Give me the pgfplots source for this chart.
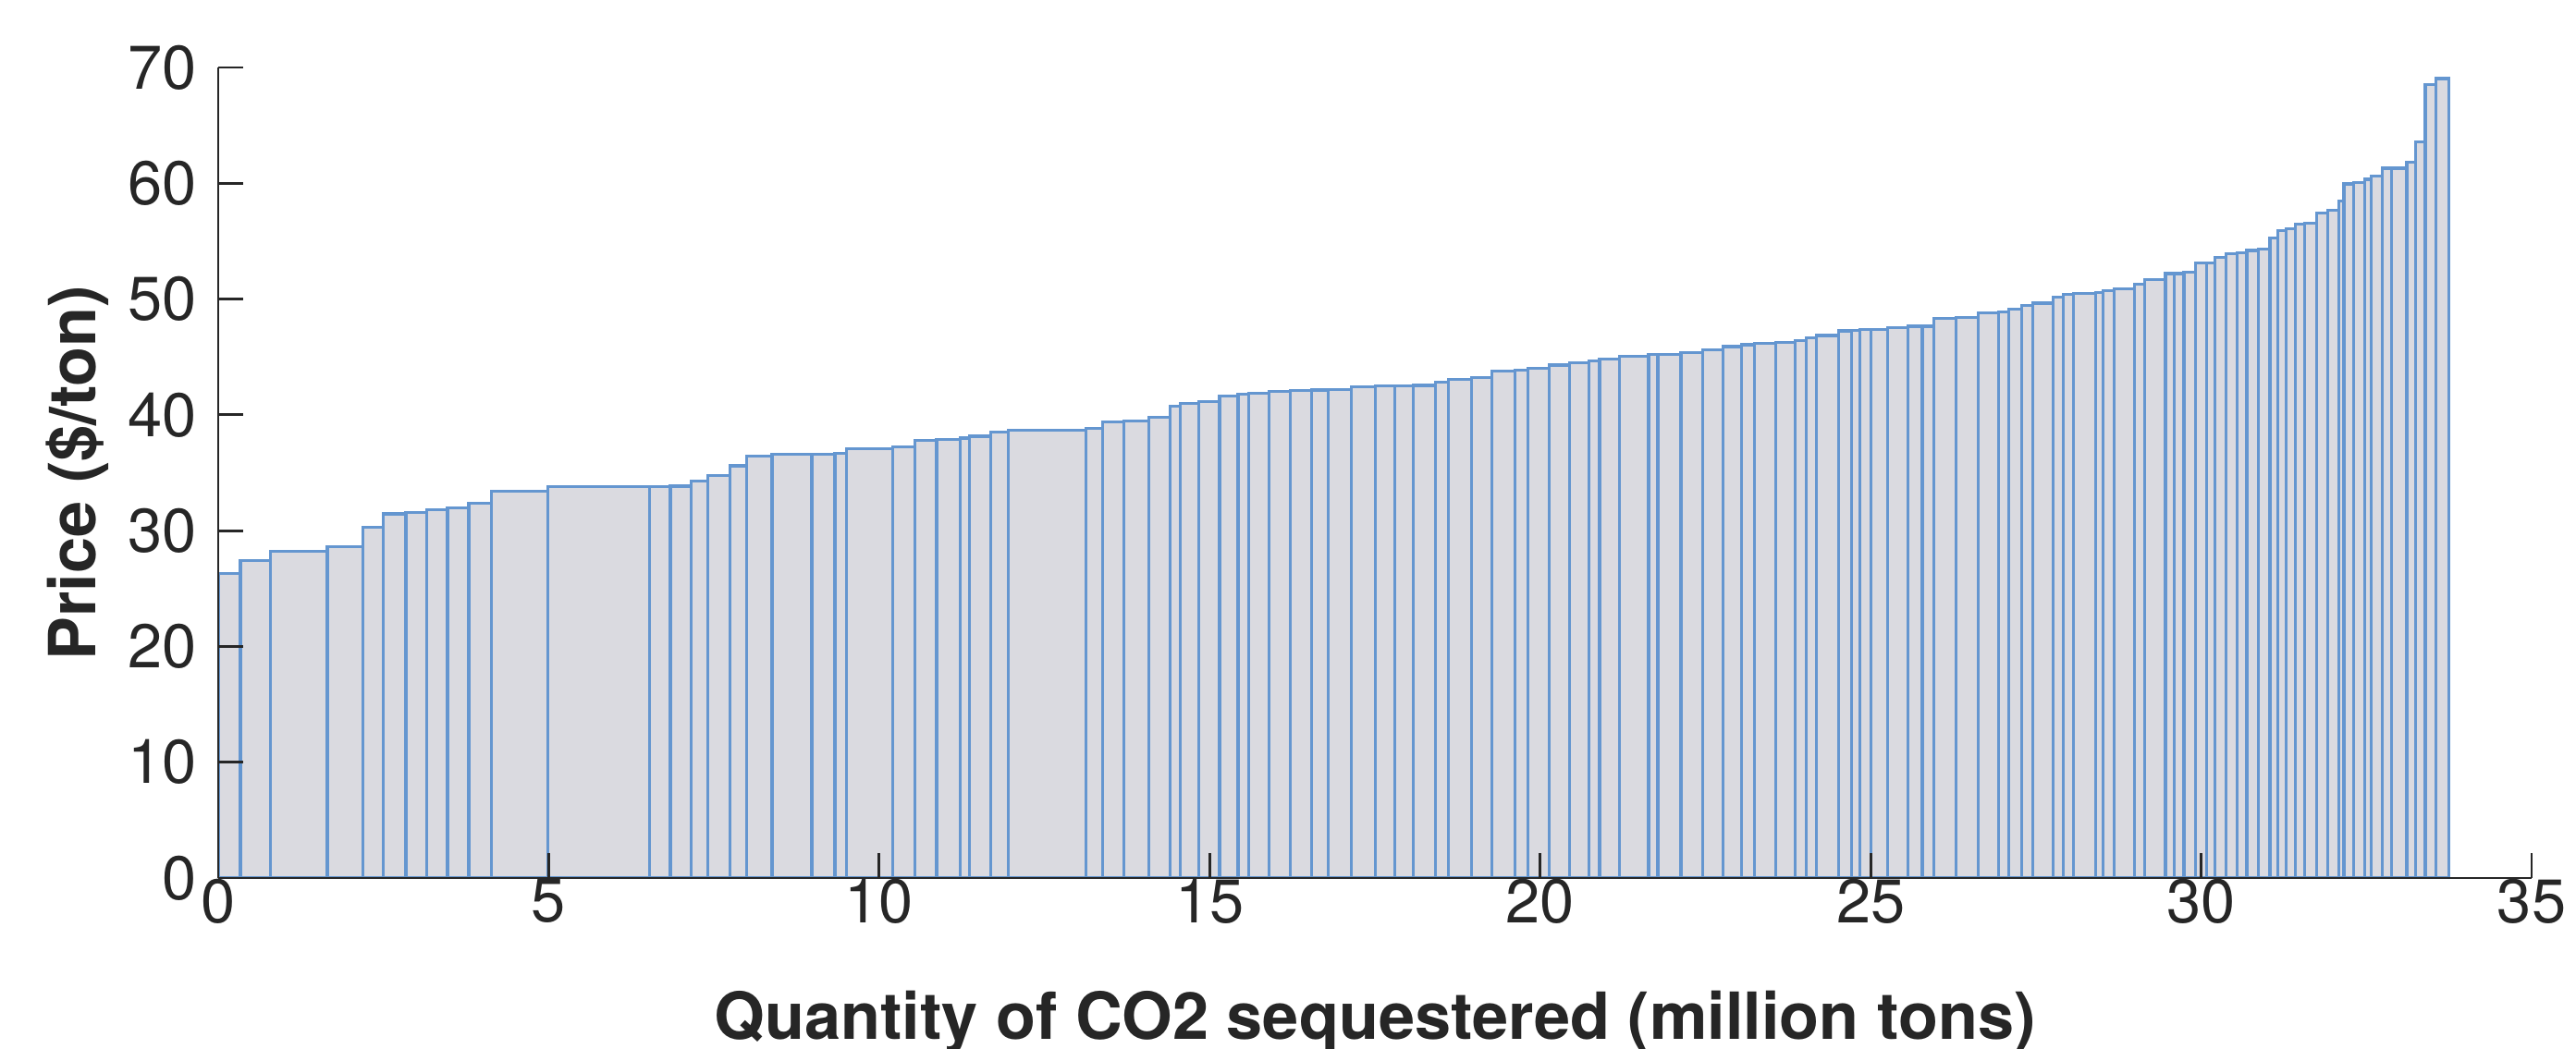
\documentclass[border=0pt]{standalone}
\usepackage{fontspec}
\setmainfont{TeX Gyre Heros}
\usepackage{pgfplots}
\usepackage{pgfplotstable}
\pgfplotsset{compat=1.18}
\definecolor{barfill}{RGB}{218,218,224}
\definecolor{baredge}{RGB}{100,150,208}
\definecolor{axcol}{RGB}{38,38,38}
\pgfplotstableread{
x y
0 26.3
0.336 27.45
0.79 28.2
1.65 28.6
2.19 30.3
2.50 31.45
2.84 31.6
3.16 31.8
3.47 32.0
3.79 32.35
4.13 33.4
4.99 33.8
6.53 33.8
6.84 33.85
7.15 34.3
7.41 34.75
7.74 35.6
7.99 36.45
8.38 36.6
8.98 36.6
9.33 36.65
9.51 37.1
10.20 37.25
10.54 37.8
10.87 37.85
11.23 38.0
11.37 38.15
11.69 38.5
11.95 38.7
13.13 38.8
13.38 39.4
13.70 39.45
14.08 39.8
14.40 40.75
14.56 41.0
14.84 41.15
15.15 41.6
15.43 41.8
15.59 41.85
15.90 42.0
16.22 42.1
16.54 42.15
16.79 42.2
17.14 42.4
17.51 42.5
17.80 42.5
18.08 42.55
18.42 42.85
18.61 43.05
18.96 43.2
19.27 43.8
19.62 43.85
19.82 44.05
20.14 44.3
20.45 44.5
20.74 44.65
20.90 44.85
21.20 45.05
21.64 45.2
21.78 45.25
22.13 45.35
22.46 45.65
22.77 45.9
23.05 46.05
23.24 46.2
23.56 46.25
23.86 46.4
24.02 46.65
24.18 46.85
24.52 47.25
24.71 47.3
24.84 47.4
25.00 47.4
25.26 47.55
25.57 47.65
25.78 47.65
25.96 48.3
26.29 48.4
26.63 48.8
26.94 48.9
27.09 49.15
27.28 49.45
27.45 49.65
27.76 50.15
27.92 50.4
28.07 50.5
28.40 50.55
28.52 50.75
28.68 50.9
28.99 51.3
29.14 51.7
29.46 52.2
29.59 52.2
29.74 52.35
29.91 53.1
30.08 53.1
30.21 53.6
30.38 53.95
30.54 54.0
30.69 54.2
30.87 54.3
31.04 55.25
31.16 55.9
31.28 56.05
31.42 56.45
31.56 56.55
31.75 57.4
31.91 57.7
32.08 58.45
32.16 59.95
32.31 60.05
32.47 60.35
32.57 60.6
32.74 61.3
32.88 61.3
33.11 61.85
33.24 63.55
33.39 68.5
33.55 69.05
33.75 69.05
}\supply
\begin{document}
\begin{tikzpicture}
\useasboundingbox (-2.36cm,-1.84cm) rectangle (25.50cm,9.50cm);
\begin{axis}[
  scale only axis, width=25.02cm, height=8.77cm,
  at={(0,0)}, anchor=south west,
  xmin=0, xmax=35, ymin=0, ymax=70,
  axis x line*=bottom, axis y line*=left,
  axis line style={-, draw=axcol, line width=0.8pt},
  axis on top,
  tick align=inside, major tick length=0.27cm,
  tick style={draw=axcol, line width=0.8pt},
  xtick={0,5,...,35}, ytick={0,10,...,70},
  /pgf/number format/assume math mode=true,
  ticklabel style={font=\fontsize{19}{21}\selectfont, text=axcol},
  xticklabel style={inner sep=0pt, anchor=north, yshift=0cm},
  yticklabel style={inner sep=0pt, anchor=east, xshift=-0.23cm},
  xlabel={Quantity of CO2 sequestered (million tons)},
  ylabel={Price (\$/ton)},
  xlabel style={font=\fontsize{20}{24}\selectfont\bfseries, text=axcol, inner sep=0pt,
    at={(axis description cs:0.5,-0.1995)}, anchor=base},
  ylabel style={font=\fontsize{20}{24}\selectfont\bfseries, text=axcol, inner sep=0pt,
    at={(axis description cs:-0.061,0.5)}, anchor=center},
]
\addplot[ybar interval, fill=barfill, draw=baredge, line width=0.9pt] table[x=x, y=y] {\supply};
\end{axis}
\end{tikzpicture}
\end{document}
